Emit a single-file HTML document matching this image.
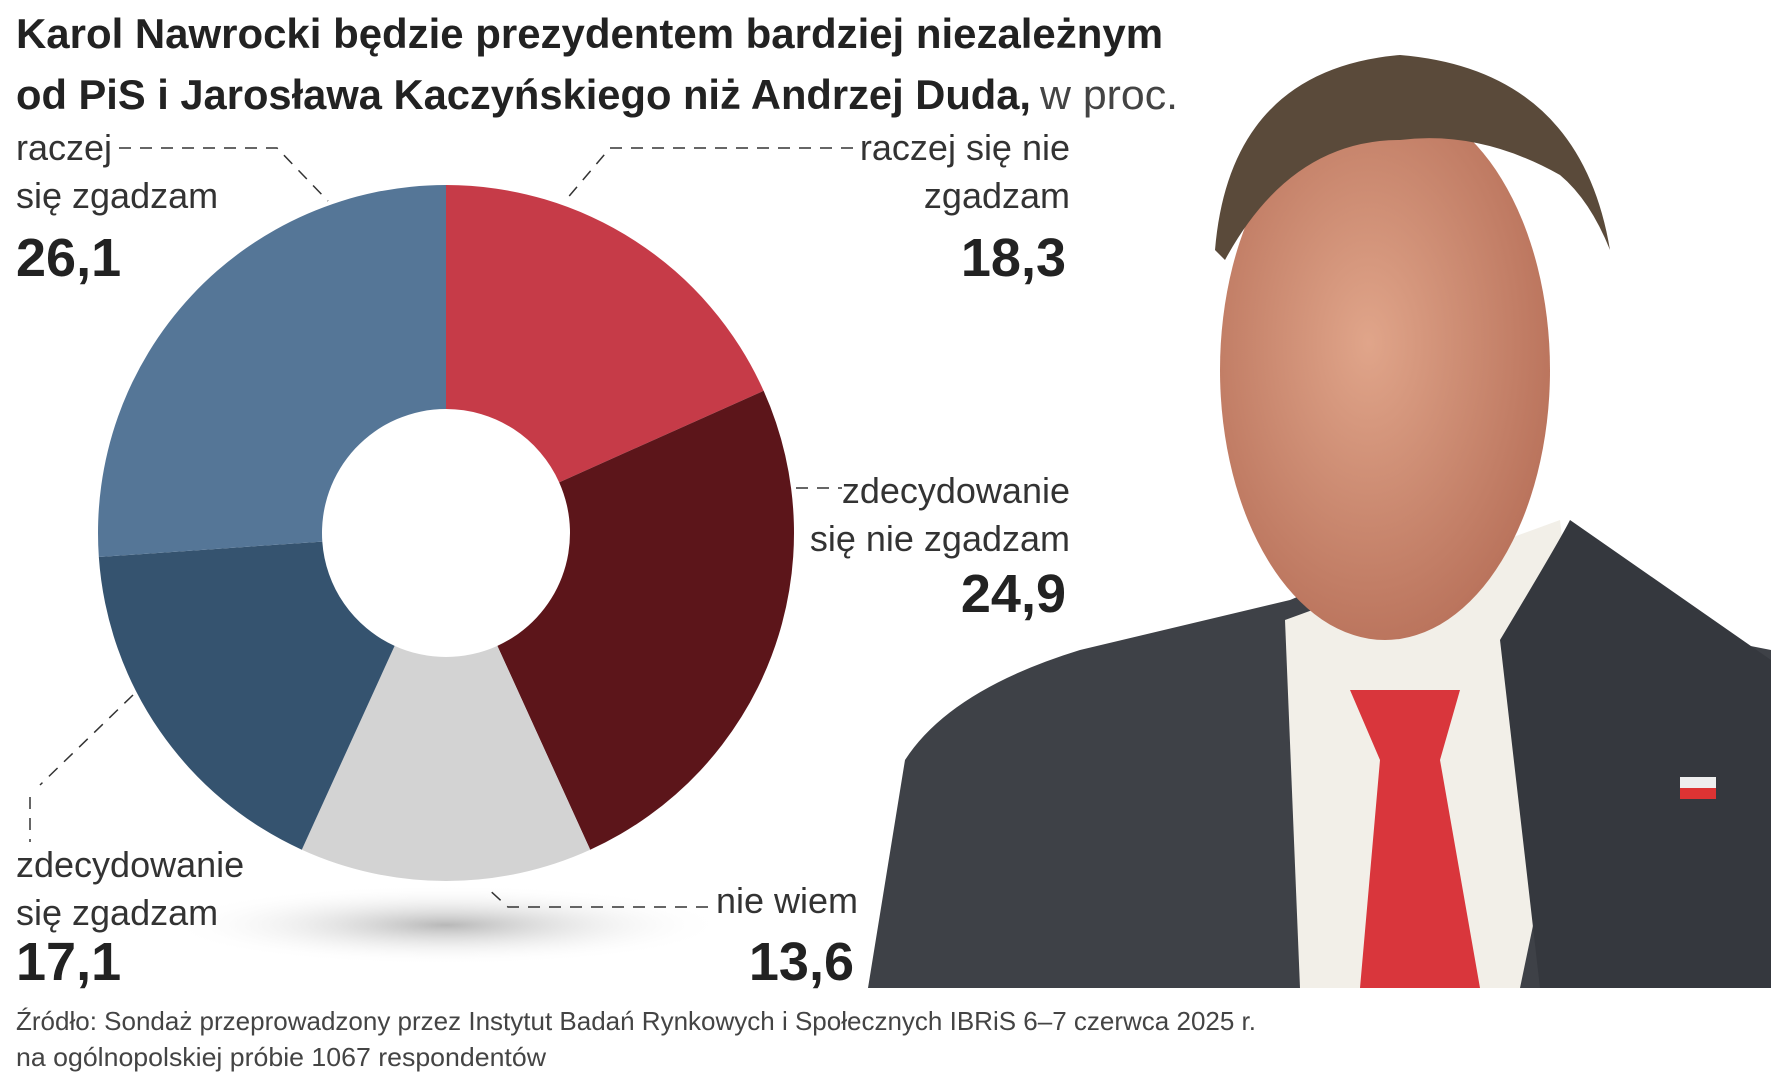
<!DOCTYPE html>
<html><head><meta charset="utf-8"><style>
html,body{margin:0;padding:0;background:#fff;width:1771px;height:1080px;overflow:hidden}
svg text{font-family:"Liberation Sans Narrow","Liberation Sans",sans-serif}
</style></head><body>
<svg id="chart" width="1771" height="1080" viewBox="0 0 1771 1080" xmlns="http://www.w3.org/2000/svg">
<defs>
<radialGradient id="shadow" cx="50%" cy="50%" r="50%"><stop offset="0" stop-color="#999" stop-opacity="0.7"/><stop offset="1" stop-color="#fff" stop-opacity="0"/></radialGradient>
<radialGradient id="skin" cx="45%" cy="45%" r="60%"><stop offset="0" stop-color="#e0a58a"/><stop offset="1" stop-color="#b8715a"/></radialGradient>
</defs>
<g>
<path d="M868 988 L905 760 Q950 690 1080 650 L1290 600 L1480 520 Q1640 600 1720 640 L1771 650 L1771 988 Z" fill="#3e4147"/>
<path d="M1285 620 L1560 520 L1580 700 L1520 988 L1300 988 Z" fill="#f2efe8"/>
<path d="M1350 690 L1460 690 L1440 760 L1480 988 L1360 988 L1380 760 Z" fill="#d9363c"/>
<path d="M1500 640 Q1560 540 1570 520 L1771 660 L1771 988 L1540 988 Z" fill="#35383e"/>
<ellipse cx="1385" cy="370" rx="165" ry="270" fill="url(#skin)"/>
<path d="M1215 250 Q1230 70 1400 55 Q1580 70 1610 250 Q1590 200 1560 175 Q1480 130 1400 140 Q1290 140 1225 260 Z" fill="#5a4a3a"/>
<rect x="1680" y="777" width="36" height="22" fill="#eee"/><rect x="1680" y="788" width="36" height="11" fill="#d33"/>
</g>
<g font-weight="bold" fill="#222">
<text x="16" y="48" font-size="42" textLength="1147" lengthAdjust="spacingAndGlyphs">Karol Nawrocki będzie prezydentem bardziej niezależnym</text>
<text x="16" y="109" font-size="42" textLength="1015" lengthAdjust="spacingAndGlyphs">od PiS i Jarosława Kaczyńskiego niż Andrzej Duda,</text>
<text x="1040" y="109" font-size="42" font-weight="normal" fill="#444" textLength="138" lengthAdjust="spacingAndGlyphs">w proc.</text>
</g>
<ellipse cx="446" cy="925" rx="280" ry="40" fill="url(#shadow)"/>
<g id="slices"></g>
<g fill="none" stroke="#333" stroke-width="1.5" stroke-dasharray="12,9">
<polyline points="119,148 277,148 328,201"/>
<polyline points="853,148 610,148 565,201"/>
<polyline points="796,488 842,488"/>
<polyline points="708,907 508,907 486,887"/>
<polyline points="133,695 40,785"/>
<polyline points="30,797 30,842"/>
</g>
<g id="labels" fill="#333" font-size="36"></g>
<g fill="#444" font-size="26">
<text x="16" y="1030" textLength="1240" lengthAdjust="spacingAndGlyphs">Źródło: Sondaż przeprowadzony przez Instytut Badań Rynkowych i Społecznych IBRiS 6–7 czerwca 2025 r.</text>
<text x="16" y="1066" textLength="530" lengthAdjust="spacingAndGlyphs">na ogólnopolskiej próbie 1067 respondentów</text>
</g>
</svg>
<script>
const categories = ["raczej się nie zgadzam","zdecydowanie się nie zgadzam","nie wiem","zdecydowanie się zgadzam","raczej się zgadzam"];
const values = [18.3, 24.9, 13.6, 17.1, 26.1];
const valueLabels = ["18,3","24,9","13,6","17,1","26,1"];
const colors = ["#c63b48","#5c151a","#d3d3d3","#35536f","#557697"];
const NS="http://www.w3.org/2000/svg";
const cx=446, cy=533, R=348, r=124;
const total=values.reduce((a,b)=>a+b,0);
function pt(a,rad){return [cx+rad*Math.sin(a), cy-rad*Math.cos(a)];}
const g=document.getElementById('slices');
let acc=0;
values.forEach((v,i)=>{
  const a0=acc/total*2*Math.PI; acc+=v; const a1=acc/total*2*Math.PI;
  const large=(a1-a0)>Math.PI?1:0;
  const [x0,y0]=pt(a0,R),[x1,y1]=pt(a1,R),[x2,y2]=pt(a1,r),[x3,y3]=pt(a0,r);
  const p=document.createElementNS(NS,'path');
  p.setAttribute('d',`M${x0},${y0} A${R},${R} 0 ${large} 1 ${x1},${y1} L${x2},${y2} A${r},${r} 0 ${large} 0 ${x3},${y3} Z`);
  p.setAttribute('fill',colors[i]);
  
  
  g.appendChild(p);
});
const layout=[
  [["raczej się nie","zgadzam"],1070,160,"end",276],
  [["zdecydowanie","się nie zgadzam"],1070,503,"end",612],
  [["nie wiem"],858,913,"end",980],
  [["zdecydowanie","się zgadzam"],16,877,"start",980],
  [["raczej","się zgadzam"],16,160,"start",276]
];
const lg=document.getElementById('labels');
layout.forEach((L,i)=>{
  L[0].forEach((t,j)=>{
    const tx=document.createElementNS(NS,'text');
    tx.setAttribute('x',L[1]);tx.setAttribute('y',L[2]+j*48);tx.setAttribute('text-anchor',L[3]);
    tx.textContent=t;
    
    
    lg.appendChild(tx);
  });
  const vx=document.createElementNS(NS,'text');
  vx.setAttribute('x',L[3]==="end"?L[1]-4:L[1]);vx.setAttribute('y',L[4]);vx.setAttribute('text-anchor',L[3]);
  vx.setAttribute('font-size','54');vx.setAttribute('font-weight','bold');vx.setAttribute('fill','#222');
  vx.textContent=valueLabels[i];
  
  
  lg.appendChild(vx);
});
</script>
</body></html>
